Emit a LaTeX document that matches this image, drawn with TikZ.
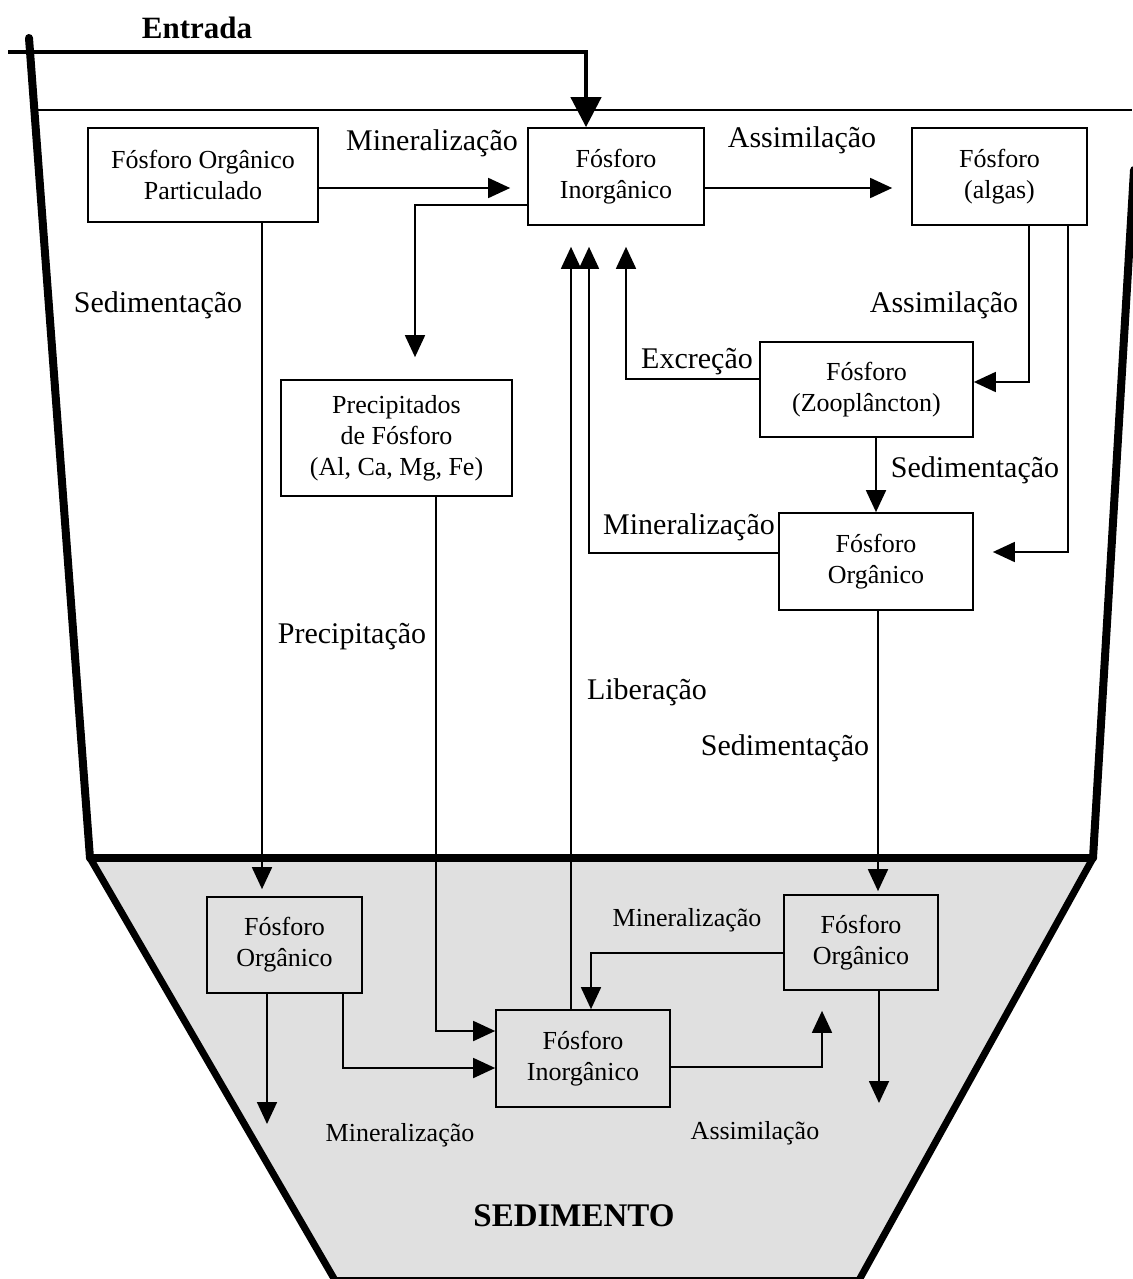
\documentclass[tikz,border=0pt]{standalone}
\usepackage{fontspec}
\setmainfont{Liberation Serif}
\usetikzlibrary{arrows.meta}
\newcommand\lblfont{\fontsize{30}{34}\selectfont}
\newcommand\boxfont{\fontsize{26}{31}\selectfont}
\newcommand\smfont{\fontsize{26}{30}\selectfont}
\tikzset{
  pbox/.style={draw, line width=1.7pt, align=center, inner sep=0pt, font=\boxfont},
  arr/.style={-{Triangle[length=22pt,width=20pt]}, line width=1.8pt},
  entr/.style={-{Triangle[length=30pt,width=30pt]}, line width=4.5pt},
  wall/.style={line width=8pt, line cap=round, line join=round},
  lbl/.style={font=\lblfont, inner sep=0pt},
  slbl/.style={font=\smfont, inner sep=0pt},
  sedfill/.style={fill=black!12}
}
\begin{document}
\begin{tikzpicture}[x=1pt,y=-1pt]
\useasboundingbox (0,0) rectangle (1132,1279);
% sediment area
\fill[sedfill] (90,858) -- (1093,858) -- (858,1279) -- (336,1279) -- cycle;
\draw[line width=2pt] (336,1278) -- (858,1278);
% walls
\draw[wall] (29,38) -- (90,858);
\draw[wall] (1134,170) -- (1093,858);
\draw[wall] (90,858) -- (1093,858);
\draw[line width=7pt, line join=round] (90,858) -- (336,1282);
\draw[line width=7pt, line join=round] (1093,858) -- (858,1282);
% water surface
\draw[line width=1.3pt] (31,110) -- (1132,110);

% boxes
\node[pbox, minimum width=230pt, minimum height=94pt] (fop) at (203,175) {Fósforo Orgânico\\Particulado};
\node[pbox, minimum width=176pt, minimum height=97pt] (fi) at (616,176.5) {Fósforo\\Inorgânico};
\node[pbox, minimum width=175pt, minimum height=97pt] (alg) at (999.5,176.5) {Fósforo\\(algas)};
\node[pbox, minimum width=213pt, minimum height=95pt] (zoo) at (866.5,389.5) {Fósforo\\(Zooplâncton)};
\node[pbox, minimum width=194pt, minimum height=97pt] (orgw) at (876,561.5) {Fósforo\\Orgânico};
\node[pbox, minimum width=231pt, minimum height=116pt] (prec) at (396.5,438) {Precipitados\\de Fósforo\\(Al, Ca, Mg, Fe)};
\node[pbox, minimum width=155pt, minimum height=96pt] (sol) at (284.5,945) {Fósforo\\Orgânico};
\node[pbox, minimum width=174pt, minimum height=97pt] (sin) at (583,1058.5) {Fósforo\\Inorgânico};
\node[pbox, minimum width=154pt, minimum height=95pt] (sor) at (861,942.5) {Fósforo\\Orgânico};

% entrada
\coordinate (ein) at (8,52);
\draw[entr] (ein) -- (586,52) -- (fi.north -| 586,0);

% connectors in water column
\draw[arr, shorten >=17pt] (fop.east |- 0,188) -- (fi.west |- 0,188);
\draw[arr, shorten >=19pt] (fi.east |- 0,188) -- (alg.west |- 0,188);
\draw[arr, shorten >=22pt] (fi.west |- 0,205) -| (prec.north -| 415,0);
\draw[arr, shorten >=7pt] (fop.south -| 262,0) -- (sol.north -| 262,0);
\draw[arr] (prec.south -| 436,0) |- (sin.west |- 0,1031);
\draw[arr, shorten >=21pt] (sin.north -| 571,0) -- (fi.south -| 571,0);
\draw[arr, shorten >=21pt] (orgw.west |- 0,553) -| (fi.south -| 589,0);
\draw[arr, shorten >=21pt] (zoo.west |- 0,379) -| (fi.south -| 626,0);
\draw[arr] (alg.south -| 1029,0) |- (zoo.east |- 0,382);
\draw[arr, shorten >=19pt] (alg.south -| 1068,0) |- (orgw.east |- 0,552);
\draw[arr] (zoo.south -| 876,0) -- (orgw.north -| 876,0);
\draw[arr, shorten >=3pt] (orgw.south -| 878,0) -- (sor.north -| 878,0);

% connectors in sediment
\coordinate (solout) at (267,1124);
\coordinate (sorout) at (879,1103);
\draw[arr] (sol.south -| 267,0) -- (solout);
\draw[arr] (sol.south -| 343,0) |- (sin.west |- 0,1068);
\draw[arr] (sor.west |- 0,953) -| (sin.north -| 591,0);
\draw[arr, shorten >=20pt] (sin.east |- 0,1067) -| (sor.south -| 822,0);
\draw[arr] (sor.south -| 879,0) -- (sorout);

% labels
\node[font=\fontsize{31}{34}\selectfont\bfseries, inner sep=0pt] (tEntrada) at (197,28) {Entrada};
\node[lbl] (tMin1) at (432,143) {Mineralização};
\node[lbl] (tAss1) at (802,140) {Assimilação};
\node[lbl] (tSed1) at (158,305) {Sedimentação};
\node[lbl] (tAss2) at (944,305) {Assimilação};
\node[lbl] (tExc) at (697,362) {Excreção};
\node[lbl] (tSed2) at (975,470) {Sedimentação};
\node[lbl] (tMin2) at (689,527) {Mineralização};
\node[lbl] (tPre) at (352,637) {Precipitação};
\node[lbl] (tLib) at (647,692) {Liberação};
\node[lbl] (tSed3) at (785,748) {Sedimentação};
\node[slbl] (tMin3) at (687,920) {Mineralização};
\node[slbl] (tMin4) at (400,1135) {Mineralização};
\node[slbl] (tAss3) at (755,1133) {Assimilação};
\node[font=\fontsize{33}{36}\selectfont\bfseries, inner sep=0pt] (tSedim) at (574,1216) {SEDIMENTO};
\end{tikzpicture}
\end{document}
